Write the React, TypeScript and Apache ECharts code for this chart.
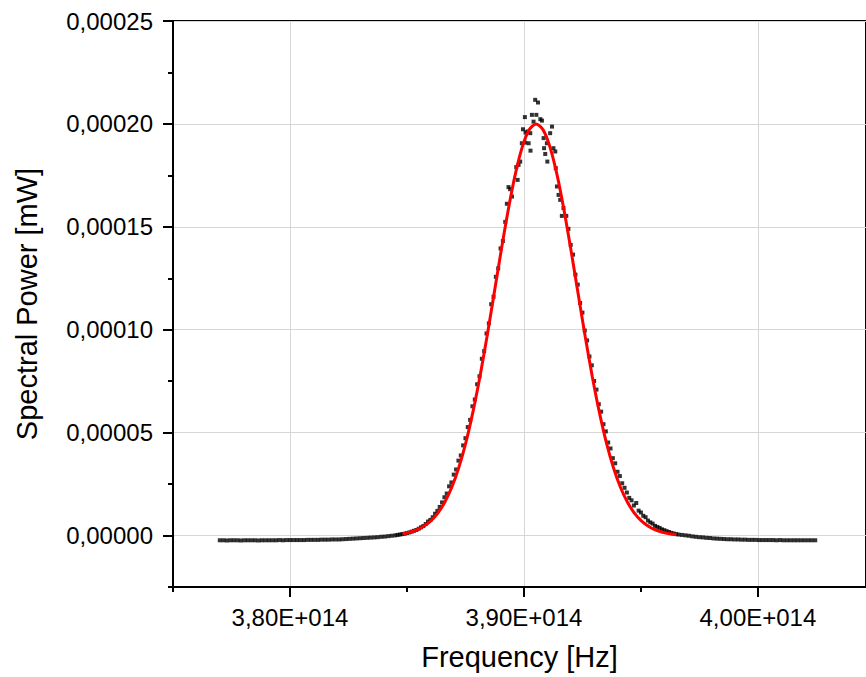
import React, { useEffect, useRef } from "react";
import * as echarts from "echarts";

// Measured spectrum: frequency in THz, spectral power in units of 1e-6 mW
const freqTHz: number[] = [
  377.0, 377.15, 377.3, 377.45, 377.6, 377.75, 377.9, 378.05, 378.2, 378.35,
  378.5, 378.65, 378.8, 378.95, 379.1, 379.25, 379.4, 379.55, 379.7, 379.85,
  380.0, 380.15, 380.3, 380.45, 380.6, 380.75, 380.9, 381.05, 381.2, 381.35,
  381.5, 381.65, 381.8, 381.95, 382.1, 382.25, 382.4, 382.55, 382.7, 382.85,
  383.0, 383.15, 383.3, 383.45, 383.6, 383.75, 383.9, 384.05, 384.2, 384.35,
  384.5,
  384.6, 384.7, 384.8, 384.9, 385.0, 385.1, 385.2, 385.3, 385.4, 385.5,
  385.6, 385.7, 385.8, 385.9, 386.0, 386.1, 386.2, 386.3, 386.4, 386.5,
  386.6, 386.7, 386.8, 386.9, 387.0, 387.1, 387.2, 387.3, 387.4, 387.5,
  387.6, 387.7, 387.8, 387.9, 388.0, 388.1, 388.2, 388.3, 388.4, 388.5,
  388.6, 388.7, 388.8, 388.9, 389.0, 389.1, 389.2,
  389.27, 389.34, 389.41, 389.49, 389.67, 389.73, 389.77, 389.84, 389.91, 389.96,
  390.04, 390.05, 390.07, 390.15, 390.2, 390.27, 390.28, 390.34, 390.41, 390.48,
  390.53, 390.6, 390.7, 390.77, 390.84, 390.86, 390.91, 390.98, 391.0, 391.12,
  391.2, 391.26, 391.34, 391.36, 391.41, 391.48, 391.55, 391.62, 391.69, 391.81,
  391.9, 392.0, 392.1, 392.2, 392.3, 392.4, 392.5, 392.6, 392.7, 392.8,
  392.9, 393.0, 393.1, 393.2, 393.3, 393.4, 393.5, 393.6, 393.7, 393.8,
  393.9, 394.0, 394.1, 394.2, 394.3, 394.4, 394.5, 394.6, 394.7, 394.8,
  394.9, 395.0, 395.1, 395.2, 395.3, 395.4, 395.5, 395.6, 395.7, 395.8,
  395.9, 396.0, 396.1, 396.2, 396.3, 396.4, 396.5, 396.6,
  396.75, 396.9, 397.05, 397.2, 397.35, 397.5, 397.65, 397.8, 397.95, 398.1,
  398.25, 398.4, 398.55, 398.7, 398.85, 399.0, 399.15, 399.3, 399.45, 399.6,
  399.75, 399.9, 400.05, 400.2, 400.35, 400.5, 400.65, 400.8, 400.95, 401.1,
  401.25, 401.4, 401.55, 401.7, 401.85, 402.0, 402.15, 402.3, 402.45,
];

const powerMicro: number[] = [
  -2.3, -2.3, -2.4, -2.3, -2.3, -2.3, -2.4, -2.3, -2.3, -2.3,
  -2.3, -2.4, -2.3, -2.3, -2.3, -2.3, -2.3, -2.2, -2.3, -2.2,
  -2.2, -2.2, -2.2, -2.2, -2.2, -2.1, -2.1, -2.1, -2.1, -2.0,
  -2.0, -2.0, -1.9, -1.9, -1.9, -1.8, -1.7, -1.6, -1.5, -1.4,
  -1.3, -1.2, -1.1, -1.0, -0.9, -0.8, -0.6, -0.5, -0.3, -0.1,
  0.1,
  0.3, 0.5, 0.7, 0.9, 1.2, 1.5, 1.9, 2.3, 2.7, 3.3,
  4.0, 4.6, 5.6, 6.8, 7.6, 8.9, 10.6, 12.0, 13.9, 16.1,
  18.6, 20.4, 23.9, 25.8, 29.6, 32.1, 36.4, 38.9, 43.8, 47.3,
  52.7, 56.2, 62.8, 66.1, 73.5, 77.4, 85.9, 89.6, 98.2, 103.1,
  112.4, 116.0, 125.7, 129.8, 139.5, 143.1, 152.4,
  161.2, 169.3, 168.3, 164.7, 179.0, 172.8, 180.1, 181.7, 190.6, 197.4,
  203.3, 190.9, 195.8, 196.3, 190.6, 195.5, 187.0, 204.4, 201.1, 211.7,
  204.4, 210.4, 202.3, 201.6, 193.1, 188.2, 185.4, 190.6, 181.7, 195.5,
  198.7, 188.2, 186.6, 178.5, 169.6, 165.5, 163.1, 155.3, 159.1, 155.3,
  149.0, 141.2, 136.5, 126.8, 121.9, 113.0, 108.3, 99.6, 94.8, 87.0,
  82.7, 75.1, 70.9, 63.8, 60.2, 54.1, 50.6, 45.2, 42.3, 37.6,
  35.1, 31.0, 28.9, 25.4, 23.2, 20.9, 18.3, 17.1, 14.6, 15.8,
  12.1, 11.2, 9.6, 8.9, 7.3, 6.4, 5.8, 4.7, 4.2, 3.7,
  3.0, 2.6, 2.1, 1.7, 1.3, 1.0, 0.7, 0.5,
  0.3, 0.1, -0.1, -0.4, -0.6, -0.8, -0.9, -1.1, -1.2, -1.4,
  -1.5, -1.6, -1.7, -1.8, -1.8, -1.9, -1.9, -2.0, -2.0, -2.1,
  -2.1, -2.1, -2.2, -2.2, -2.2, -2.2, -2.2, -2.3, -2.2, -2.3,
  -2.3, -2.3, -2.3, -2.3, -2.3, -2.3, -2.3, -2.3, -2.3,
];

// Fitted curve (red), same units
const fitFreqTHz: number[] = [
  384.82, 385.12, 385.42, 385.72, 386.02, 386.32, 386.62, 386.92, 387.22, 387.52,
  387.82, 388.12, 388.42, 388.72, 389.02, 389.32, 389.62, 389.92, 390.22, 390.52,
  390.82, 391.12, 391.42, 391.72, 392.02, 392.32, 392.62, 392.92, 393.22, 393.52,
  393.82, 394.12, 394.42, 394.72, 395.02, 395.32, 395.62, 395.92, 396.22, 396.52,
];
const fitPowerMicro: number[] = [
  0.9, 1.6, 2.7, 4.5, 7.1, 10.9, 16.3, 23.6, 33.2, 45.3,
  60.1, 77.3, 96.6, 117.2, 138.0, 157.7, 175.0, 188.5, 197.1, 200.0,
  197.1, 188.5, 175.0, 157.7, 138.0, 117.2, 96.6, 77.3, 60.1, 45.3,
  33.2, 23.6, 16.3, 10.9, 7.1, 4.5, 2.7, 1.6, 0.9, 0.5,
];

const xMajorTicks = [3.8e14, 3.9e14, 4.0e14];
const xMinorTicks = [3.75e14, 3.85e14, 3.95e14];
const yMajorTicks = [0, 0.00005, 0.0001, 0.00015, 0.0002, 0.00025];
const yMinorTicks = [-0.000025, 0.000025, 0.000075, 0.000125, 0.000175, 0.000225];

const FONT = "'Liberation Sans', Arial, Helvetica, sans-serif";

export default function App() {
  const ref = useRef<HTMLDivElement>(null);

  useEffect(() => {
    if (!ref.current) return;
    const chart = echarts.init(ref.current, undefined, { renderer: "svg" });

    const scatterData = freqTHz.map((f, i) => [f * 1e12, powerMicro[i] * 1e-6]);
    const fitData = fitFreqTHz.map((f, i) => [f * 1e12, fitPowerMicro[i] * 1e-6]);

    const xMin = 3.75e14;
    const xMax = 4.0462e14;
    const yMin = -0.000025;
    const yMax = 0.00025;
    const axisLineStyle = { color: "#000", width: 2 };

    chart.setOption({
      animation: false,
      backgroundColor: "#ffffff",
      grid: {
        left: 173,
        top: 21,
        right: 0,
        bottom: 90,
        show: true,
        borderColor: "#000",
        borderWidth: 2,
        backgroundColor: "transparent",
      },
      xAxis: [
        {
          type: "value",
          position: "bottom",
          min: xMin,
          max: xMax,
          axisLine: { show: true, onZero: false, lineStyle: axisLineStyle },
          axisTick: { show: true, customValues: xMajorTicks, length: 10, lineStyle: axisLineStyle },
          axisLabel: {
            customValues: xMajorTicks,
            formatter: (v: number) => (v / 1e14).toFixed(2).replace(".", ",") + "E+014",
            color: "#000",
            fontSize: 24,
            fontFamily: FONT,
            margin: 18,
          },
          splitLine: { show: true, lineStyle: { color: "#d6d6d6", width: 1 } },
          name: "Frequency [Hz]",
          nameLocation: "middle",
          nameGap: 55,
          nameTextStyle: { color: "#000", fontSize: 29, fontFamily: FONT },
        },
        {
          type: "value",
          position: "bottom",
          min: xMin,
          max: xMax,
          axisLine: { show: false, onZero: false },
          axisTick: { show: true, customValues: xMinorTicks, length: 5, lineStyle: axisLineStyle },
          axisLabel: { show: false },
          splitLine: { show: false },
        },
      ],
      yAxis: [
        {
          type: "value",
          position: "left",
          min: yMin,
          max: yMax,
          axisLine: { show: true, onZero: false, lineStyle: axisLineStyle },
          axisTick: { show: true, customValues: yMajorTicks, length: 10, lineStyle: axisLineStyle },
          axisLabel: {
            customValues: yMajorTicks,
            formatter: (v: number) => v.toFixed(5).replace(".", ","),
            color: "#000",
            fontSize: 24,
            fontFamily: FONT,
            margin: 20,
          },
          splitLine: { show: true, lineStyle: { color: "#d6d6d6", width: 1 } },
          name: "Spectral Power [mW]",
          nameLocation: "middle",
          nameRotate: 90,
          nameGap: 132,
          nameTextStyle: { color: "#000", fontSize: 29, fontFamily: FONT },
        },
        {
          type: "value",
          position: "left",
          min: yMin,
          max: yMax,
          axisLine: { show: false, onZero: false },
          axisTick: { show: true, customValues: yMinorTicks, length: 5, lineStyle: axisLineStyle },
          axisLabel: { show: false },
          splitLine: { show: false },
        },
      ],
      series: [
        {
          type: "scatter",
          xAxisIndex: 0,
          yAxisIndex: 0,
          data: scatterData,
          symbol: "rect",
          symbolSize: 4,
          itemStyle: { color: "#000" },
          silent: true,
          z: 2,
        },
        {
          type: "line",
          xAxisIndex: 0,
          yAxisIndex: 0,
          data: fitData,
          showSymbol: false,
          smooth: 0.3,
          lineStyle: { color: "#ff0000", width: 3 },
          silent: true,
          z: 3,
        },
      ],
    });

    return () => {
      chart.dispose();
    };
  }, []);

  return (
    <div
      ref={ref}
      style={{ position: "absolute", left: 0, top: 0, width: 866, height: 677 }}
    />
  );
}
